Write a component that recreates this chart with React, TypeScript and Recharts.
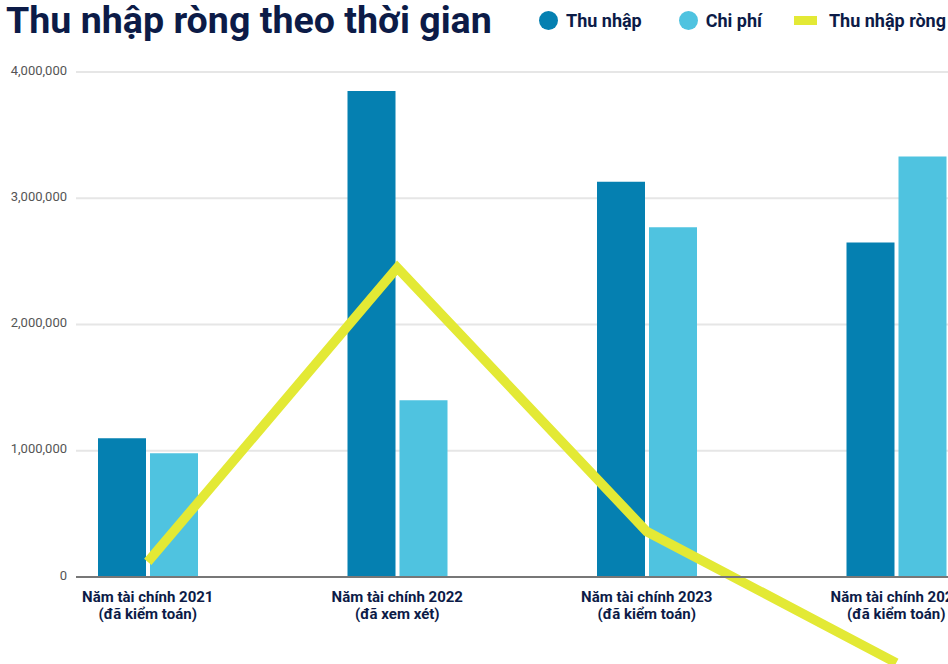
import React from 'react';
import { ComposedChart, Bar, Line, XAxis, YAxis, CartesianGrid } from 'recharts';

const categoryYears = ['Năm tài chính 2021', 'Năm tài chính 2022', 'Năm tài chính 2023', 'Năm tài chính 2024'];
const categoryNotes = ['(đã kiểm toán)', '(đã xem xét)', '(đã kiểm toán)', '(đã kiểm toán)'];
const incomeValues = [1100000, 3850000, 3130000, 2650000];
const expenseValues = [980000, 1400000, 2770000, 3330000];
const netValues = [120000, 2450000, 360000, -680000];
const yTicks = [0, 1000000, 2000000, 3000000, 4000000];

const seriesNames = { income: 'Thu nhập', expense: 'Chi phí', net: 'Thu nhập ròng' };
const COLORS = { income: '#0580B1', expense: '#4FC3E0', net: '#E3E935' };
const NAVY = '#0C1B47';
const FONT = 'Roboto, "Noto Sans", sans-serif';

const data = categoryYears.map((name, i) => ({
  name,
  income: incomeValues[i],
  expense: expenseValues[i],
  net: netValues[i],
}));

const XTick = (props: any) => {
  const { x, y, payload } = props;
  const i = categoryYears.indexOf(payload.value);
  return (
    <text x={x} y={y} textAnchor="middle" fill={NAVY} fontWeight={700} fontSize={15} fontFamily={FONT}>
      <tspan x={x} dy={17}>{categoryYears[i]}</tspan>
      <tspan x={x} dy={17}>{categoryNotes[i]}</tspan>
    </text>
  );
};

const legendItems = [
  { key: 'income', label: seriesNames.income, color: COLORS.income, kind: 'circle' },
  { key: 'expense', label: seriesNames.expense, color: COLORS.expense, kind: 'circle' },
  { key: 'net', label: seriesNames.net, color: COLORS.net, kind: 'line' },
];

export default function App() {
  return (
    <div style={{ position: 'absolute', left: 0, top: 0, width: 948, height: 664, overflow: 'hidden', background: '#fff', fontFamily: FONT }}>
      <style>{`.recharts-line [clip-path], .recharts-line[clip-path] { clip-path: none !important; } .recharts-surface { overflow: visible; }`}</style>
      <div style={{ position: 'absolute', left: 6, top: 1, fontSize: 37.6, lineHeight: '38px', fontWeight: 700, color: NAVY, whiteSpace: 'nowrap' }}>
        Thu nhập ròng theo thời gian
      </div>
      <div style={{ position: 'absolute', left: 539, top: 10, height: 20, display: 'flex', alignItems: 'center', whiteSpace: 'nowrap' }}>
        {legendItems.map((it) => (
          <div key={it.key} style={{ display: 'flex', alignItems: 'center', marginRight: it.key === 'income' ? 37 : 32 }}>
            {it.kind === 'circle' ? (
              <span style={{ width: 19, height: 19, borderRadius: '50%', background: it.color, display: 'inline-block' }} />
            ) : (
              <span style={{ width: 23, height: 9, background: it.color, display: 'inline-block' }} />
            )}
            <span style={{ marginLeft: it.kind === 'circle' ? 8 : 12, fontSize: 18, fontWeight: 700, color: NAVY }}>{it.label}</span>
          </div>
        ))}
      </div>
      <div style={{ position: 'absolute', left: 0, top: 0 }}>
        <ComposedChart
          width={1048}
          height={664}
          data={data}
          margin={{ top: 72, right: 27, bottom: 37, left: 0 }}
          barGap={4}
        >
          <CartesianGrid vertical={false} stroke="#E6E6E6" strokeWidth={2} />
          <XAxis
            dataKey="name"
            padding={{ left: -53, right: 0 }}
            axisLine={{ stroke: '#777777', strokeWidth: 2 }}
            tickLine={false}
            tick={<XTick />}
            height={50}
            interval={0}
          />
          <YAxis
            width={76}
            domain={[0, 4000000]}
            ticks={yTicks}
            allowDataOverflow
            axisLine={false}
            tickLine={false}
            tickMargin={3}
            tick={{ fill: '#555555', fontSize: 13, fontFamily: FONT, dy: -2 }}
            tickFormatter={(v: number) => v.toLocaleString('en-US')}
          />
          <Bar dataKey="income" name={seriesNames.income} fill={COLORS.income} barSize={48} isAnimationActive={false} />
          <Bar dataKey="expense" name={seriesNames.expense} fill={COLORS.expense} barSize={48} isAnimationActive={false} />
          <Line
            type="linear"
            dataKey="net"
            name={seriesNames.net}
            stroke={COLORS.net}
            strokeWidth={9.5}
            dot={false}
            activeDot={false}
            isAnimationActive={false}
          />
        </ComposedChart>
      </div>
    </div>
  );
}
